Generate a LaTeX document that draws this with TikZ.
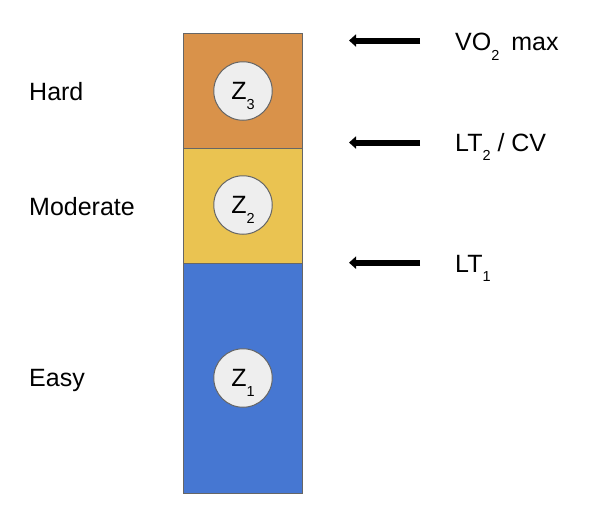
\documentclass[tikz,border=0pt]{standalone}
\usepackage{fontspec}
\setmainfont{Liberation Sans}
\usetikzlibrary{arrows.meta}
\definecolor{zorange}{HTML}{D9924A}
\definecolor{zyellow}{HTML}{EAC351}
\definecolor{zblue}{HTML}{4677D2}
\definecolor{zgray}{HTML}{666666}
\definecolor{zlight}{HTML}{EEEEEE}
\newcommand{\zsub}[1]{\raisebox{-9.5pt}[0pt][0pt]{\fontsize{14.5pt}{14.5pt}\selectfont #1}}
\begin{document}
\begin{tikzpicture}[x=1pt,y=-1pt,
  zonebox/.style={draw=zgray,line width=1.2pt,minimum width=119pt,anchor=north west,inner sep=0pt},
  zcirc/.style={circle,draw=zgray,line width=1pt,fill=zlight,minimum size=58.5pt,inner sep=0pt,font=\fontsize{25pt}{25pt}\selectfont},
  lbl/.style={anchor=base west,inner sep=0pt,font=\fontsize{25pt}{25pt}\selectfont},
  thickarrow/.style={line width=6pt,-{Triangle[length=7pt,width=12pt]}}
]
\useasboundingbox (0,0) rectangle (612,520);
% zone boxes
\node[zonebox,fill=zorange,minimum height=115pt] (z3box) at (183,33) {};
\node[zonebox,fill=zyellow,minimum height=115pt] (z2box) at (183,148) {};
\node[zonebox,fill=zblue,minimum height=230pt] (z1box) at (183,263) {};
% circles
\node[zcirc] (c3) at (243,91) {Z\zsub{3}\hspace{13pt}};
\node[zcirc] (c2) at (243,205) {Z\zsub{2}\hspace{13pt}};
\node[zcirc] (c1) at (243,378) {Z\zsub{1}\hspace{13pt}};
% left labels
\node[lbl] (hard) at (29,100.7) {Hard};
\node[lbl] (moderate) at (29,215) {Moderate};
\node[lbl] (easy) at (29,386.7) {Easy};
% right labels
\node[lbl] (vo2) at (455,50.7) {VO\zsub{2}\hspace{12pt}max};
\node[lbl] (lt2) at (455,151) {LT\zsub{2} / CV};
\node[lbl] (lt1) at (455,272) {LT\zsub{1}};
% arrows
\coordinate (a3s) at (420,40.5);
\coordinate (a3e) at (349,40.5);
\coordinate (a2s) at (420,142.5);
\coordinate (a2e) at (349,142.5);
\coordinate (a1s) at (420,262.7);
\coordinate (a1e) at (349,262.7);
\draw[thickarrow] (a3s) -- (a3e);
\draw[thickarrow] (a2s) -- (a2e);
\draw[thickarrow] (a1s) -- (a1e);
\end{tikzpicture}
\end{document}
